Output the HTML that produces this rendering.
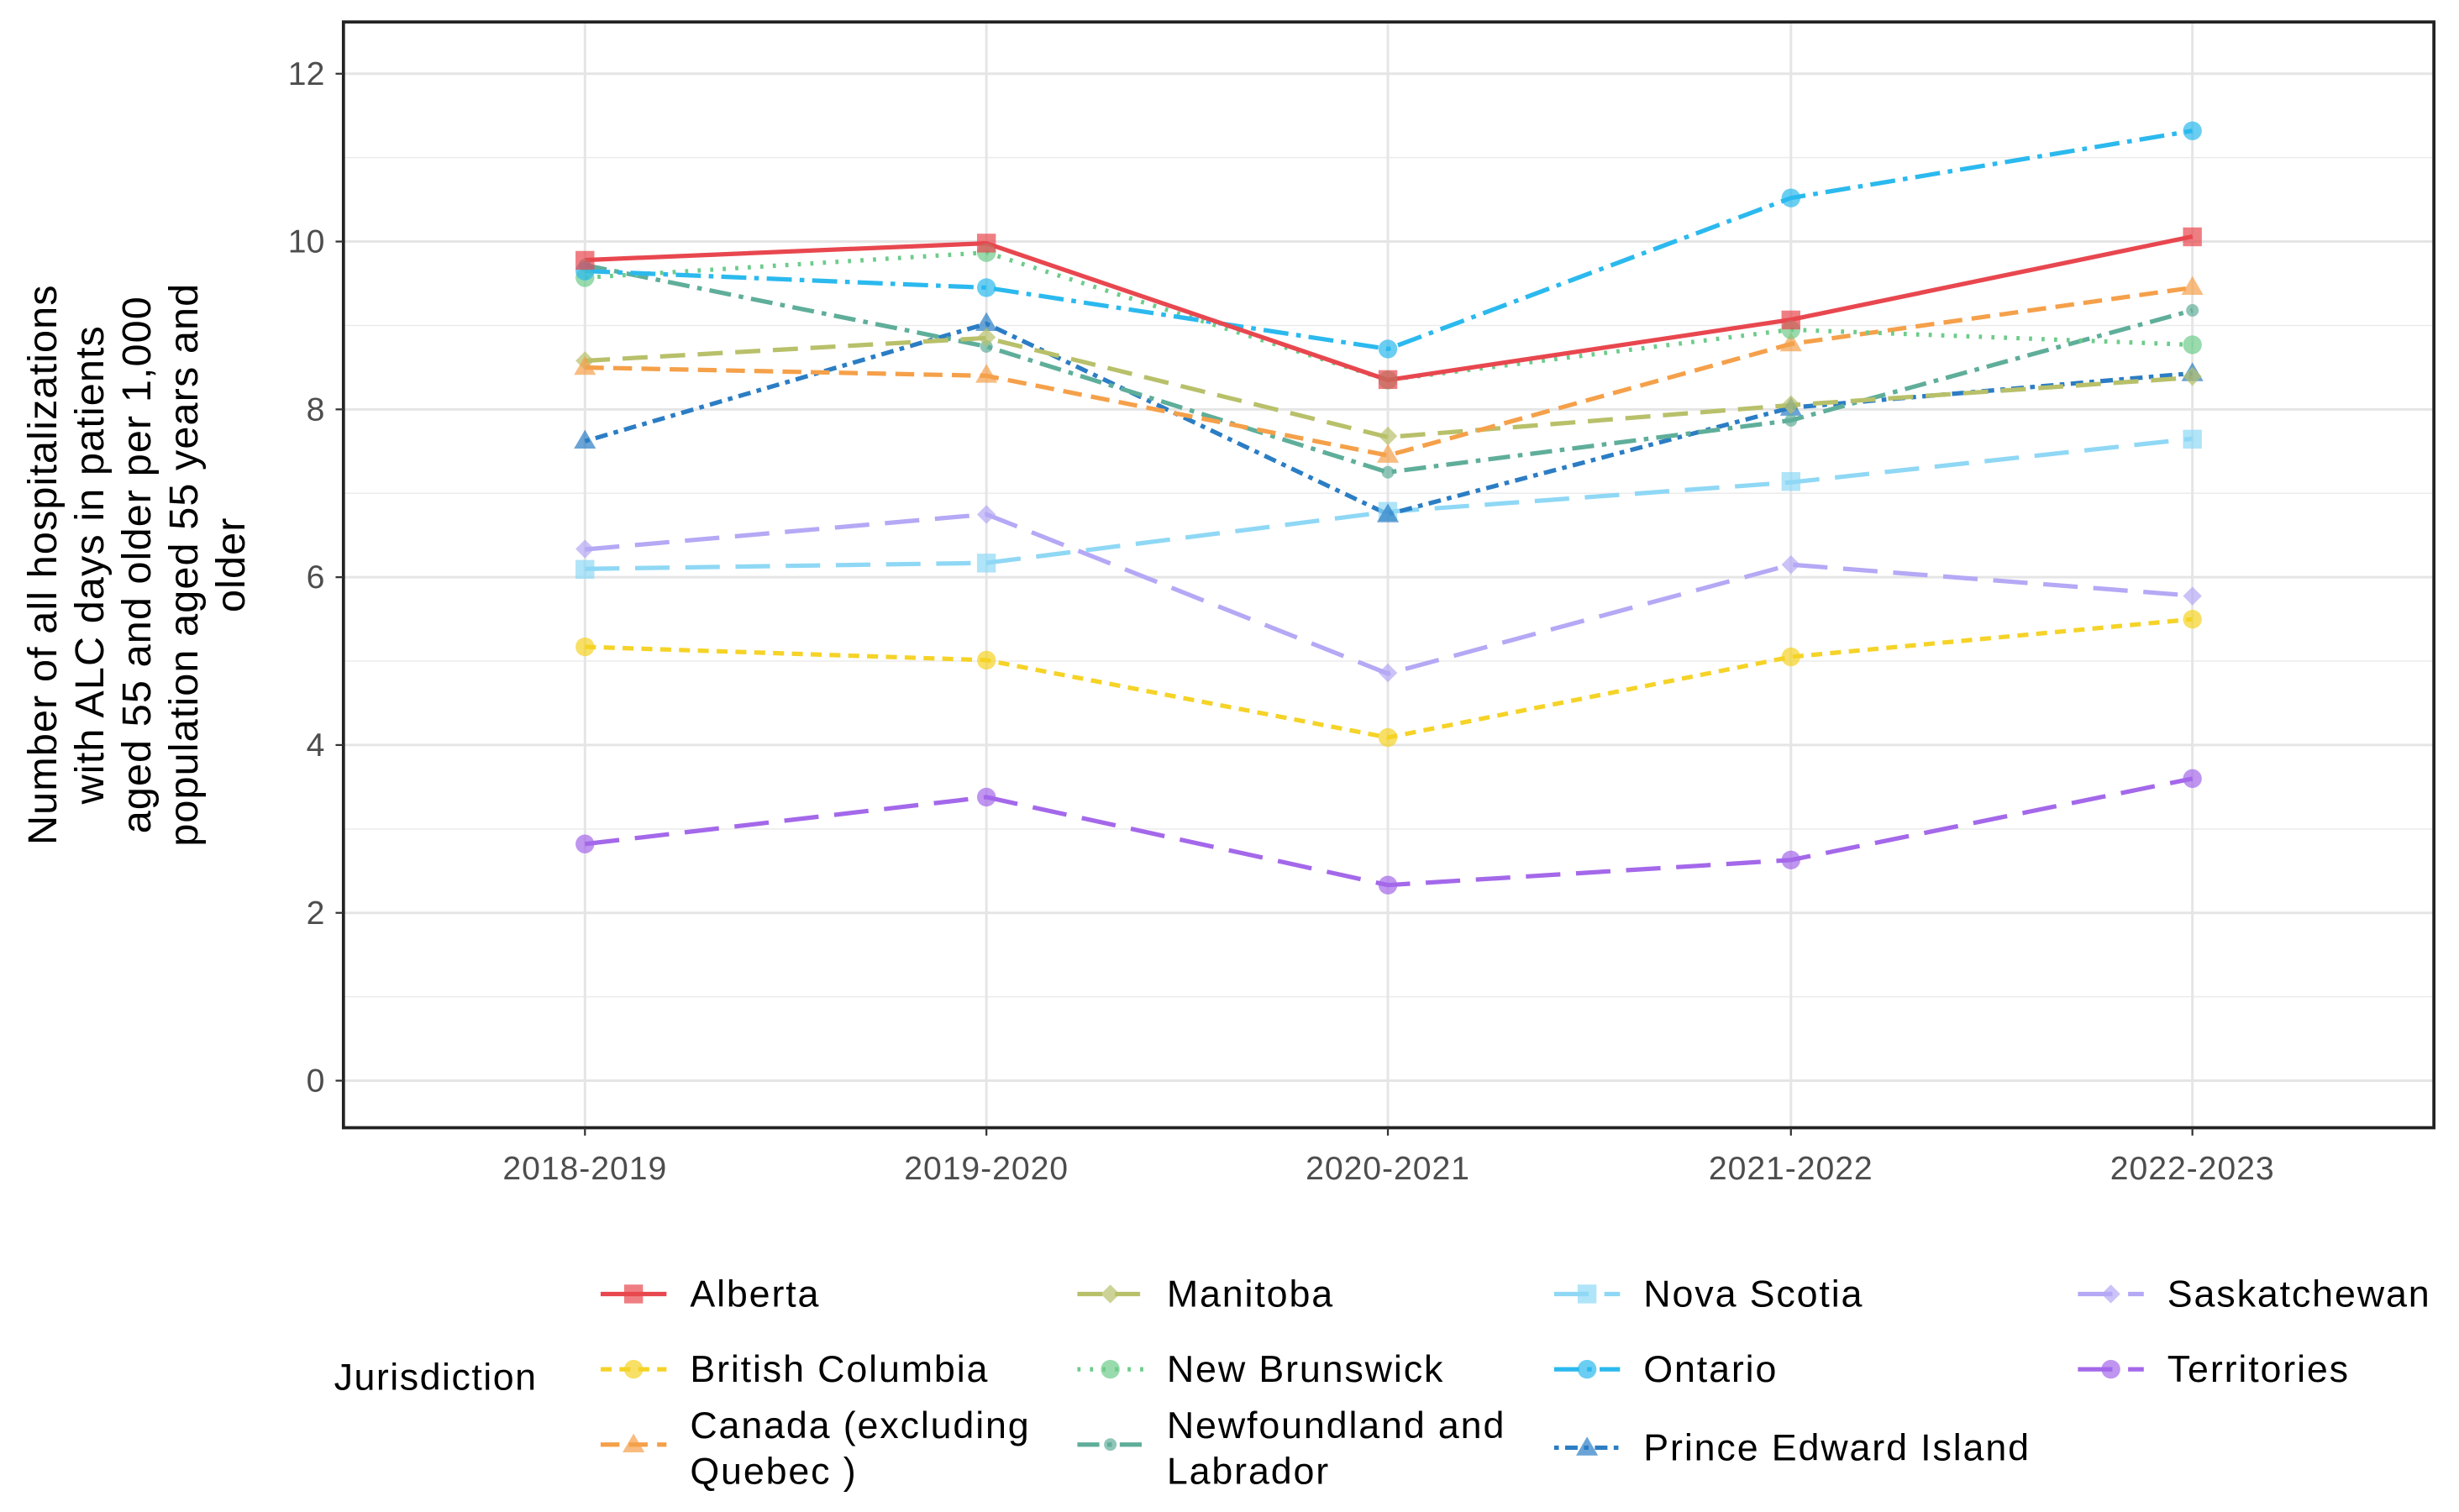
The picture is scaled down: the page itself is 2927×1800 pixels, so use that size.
<!DOCTYPE html>
<html><head><meta charset="utf-8"><style>html,body{margin:0;padding:0;background:#fff}svg{display:block}</style></head>
<body>
<svg width="2927" height="1800" viewBox="0 0 1568 964" preserveAspectRatio="none" xmlns="http://www.w3.org/2000/svg" font-family="Liberation Sans, sans-serif">
<rect width="1568" height="964" fill="#fff"/>
<g stroke="#ebebeb" stroke-width="0.8">
<line x1="219" x2="1552" y1="635.5" y2="635.5"/><line x1="219" x2="1552" y1="528.5" y2="528.5"/><line x1="219" x2="1552" y1="421.5" y2="421.5"/><line x1="219" x2="1552" y1="314.5" y2="314.5"/><line x1="219" x2="1552" y1="207.5" y2="207.5"/><line x1="219" x2="1552" y1="100.5" y2="100.5"/>
</g>
<g stroke="#e5e5e5" stroke-width="1.6">
<line x1="219" x2="1552" y1="689" y2="689"/><line x1="219" x2="1552" y1="582" y2="582"/><line x1="219" x2="1552" y1="475" y2="475"/><line x1="219" x2="1552" y1="368" y2="368"/><line x1="219" x2="1552" y1="261" y2="261"/><line x1="219" x2="1552" y1="154" y2="154"/><line x1="219" x2="1552" y1="47" y2="47"/>
<line x1="373" x2="373" y1="14" y2="719"/><line x1="629" x2="629" y1="14" y2="719"/><line x1="885" x2="885" y1="14" y2="719"/><line x1="1142" x2="1142" y1="14" y2="719"/><line x1="1398" x2="1398" y1="14" y2="719"/>
</g>
<g fill="none" stroke-width="2.8">
<polyline stroke="#a468ea" stroke-dasharray="22,10" points="373,538.1 629,508.2 885,564.3 1142,548.3 1398,496.4"/>
<polyline stroke="#b5a8f5" stroke-dasharray="22,10" points="373,350.3 629,327.9 885,429.5 1142,360 1398,379.8"/>
<polyline stroke="#f5d327" stroke-dasharray="7,5" points="373,412.4 629,420.9 885,470.2 1142,418.8 1398,394.8"/>
<polyline stroke="#8fd8f5" stroke-dasharray="22,10" points="373,362.7 629,358.9 885,326.3 1142,307.5 1398,279.7"/>
<polyline stroke="#2b7dc4" stroke-dasharray="3,4,8,4" points="373,281.3 629,206.4 885,327.9 1142,259.9 1398,238"/>
<polyline stroke="#5fae9a" stroke-dasharray="14,5,3,5" points="373,169 629,220.9 885,301.1 1142,268 1398,197.9"/>
<polyline stroke="#b8c06a" stroke-dasharray="16,8" points="373,230 629,215.5 885,278.7 1142,258.3 1398,240.7"/>
<polyline stroke="#f5a04a" stroke-dasharray="12,6" points="373,234.3 629,239.6 885,290.4 1142,219.3 1398,183.4"/>
<polyline stroke="#6dcc8a" stroke-dasharray="2,6" points="373,177 629,161 885,242.3 1142,210.2 1398,219.8"/>
<polyline stroke="#2bb9ee" stroke-dasharray="16,5,3,5" points="373,172.8 629,183.4 885,222.5 1142,126.2 1398,83.4"/>
<polyline stroke="#e8474f" points="373,165.8 629,155.1 885,242.3 1142,203.8 1398,150.8"/>
</g>
<g fill-opacity="0.7">
<circle cx="373" cy="538.1" r="6" fill="#a468ea"/><circle cx="629" cy="508.2" r="6" fill="#a468ea"/><circle cx="885" cy="564.3" r="6" fill="#a468ea"/><circle cx="1142" cy="548.3" r="6" fill="#a468ea"/><circle cx="1398" cy="496.4" r="6" fill="#a468ea"/>
<g fill="#b5a8f5"><path d="M373,344l6,6-6,6-6-6z"/><path d="M629,322l6,6-6,6-6-6z"/><path d="M885,423l6,6-6,6-6-6z"/><path d="M1142,354l6,6-6,6-6-6z"/><path d="M1398,374l6,6-6,6-6-6z"/></g>
<g fill="#f5d327"><circle cx="373" cy="412.4" r="6"/><circle cx="629" cy="420.9" r="6"/><circle cx="885" cy="470.2" r="6"/><circle cx="1142" cy="418.8" r="6"/><circle cx="1398" cy="394.8" r="6"/></g>
<g fill="#8fd8f5"><rect x="367" y="357" width="12" height="12"/><rect x="623" y="353" width="12" height="12"/><rect x="879" y="320" width="12" height="12"/><rect x="1136" y="301" width="12" height="12"/><rect x="1392" y="274" width="12" height="12"/></g>
<g fill="#2b7dc4"><path d="M373,274l7,12h-14z"/><path d="M629,199l7,12h-14z"/><path d="M885,321l7,12h-14z"/><path d="M1142,253l7,12h-14z"/><path d="M1398,231l7,12h-14z"/></g>
<g fill="#5fae9a"><circle cx="373" cy="169" r="4"/><circle cx="629" cy="220.9" r="4"/><circle cx="885" cy="301.1" r="4"/><circle cx="1142" cy="268" r="4"/><circle cx="1398" cy="197.9" r="4"/></g>
<g fill="#b8c06a"><path d="M373,224l6,6-6,6-6-6z"/><path d="M629,209l6,6-6,6-6-6z"/><path d="M885,272l6,6-6,6-6-6z"/><path d="M1142,252l6,6-6,6-6-6z"/><path d="M1398,234l6,6-6,6-6-6z"/></g>
<g fill="#f5a04a"><path d="M373,227l7,12h-14z"/><path d="M629,232l7,12h-14z"/><path d="M885,283l7,12h-14z"/><path d="M1142,212l7,12h-14z"/><path d="M1398,176l7,12h-14z"/></g>
<g fill="#6dcc8a"><circle cx="373" cy="177" r="6"/><circle cx="629" cy="161" r="6"/><circle cx="885" cy="242.3" r="6"/><circle cx="1142" cy="210.2" r="6"/><circle cx="1398" cy="219.8" r="6"/></g>
<g fill="#2bb9ee"><circle cx="373" cy="172.8" r="6"/><circle cx="629" cy="183.4" r="6"/><circle cx="885" cy="222.5" r="6"/><circle cx="1142" cy="126.2" r="6"/><circle cx="1398" cy="83.4" r="6"/></g>
<g fill="#e8474f"><rect x="367" y="160" width="12" height="12"/><rect x="623" y="149" width="12" height="12"/><rect x="879" y="236" width="12" height="12"/><rect x="1136" y="198" width="12" height="12"/><rect x="1392" y="145" width="12" height="12"/></g>
</g>
<rect x="219" y="14" width="1333" height="705" fill="none" stroke="#222" stroke-width="2"/>
<g stroke="#333" stroke-width="1.2">
<line x1="214" x2="219" y1="689" y2="689"/><line x1="214" x2="219" y1="582" y2="582"/><line x1="214" x2="219" y1="475" y2="475"/><line x1="214" x2="219" y1="368" y2="368"/><line x1="214" x2="219" y1="261" y2="261"/><line x1="214" x2="219" y1="154" y2="154"/><line x1="214" x2="219" y1="47" y2="47"/>
<line x1="373" x2="373" y1="719" y2="724"/><line x1="629" x2="629" y1="719" y2="724"/><line x1="885" x2="885" y1="719" y2="724"/><line x1="1142" x2="1142" y1="719" y2="724"/><line x1="1398" x2="1398" y1="719" y2="724"/>
</g>
<g font-size="21" fill="#4d4d4d" text-anchor="end">
<text x="207" y="696">0</text><text x="207" y="589">2</text><text x="207" y="482">4</text><text x="207" y="375">6</text><text x="207" y="268">8</text><text x="207" y="161">10</text><text x="207" y="54">12</text>
</g>
<g font-size="21" fill="#4d4d4d" text-anchor="middle" letter-spacing="0.5">
<text x="373" y="752">2018-2019</text><text x="629" y="752">2019-2020</text><text x="885" y="752">2020-2021</text><text x="1142" y="752">2021-2022</text><text x="1398" y="752">2022-2023</text>
</g>
<g font-size="26" fill="#000" text-anchor="middle" letter-spacing="0.6">
<text transform="translate(36,360) rotate(-90)">Number of all hospitalizations</text>
<text transform="translate(66,360) rotate(-90)">with ALC days in patients</text>
<text transform="translate(96,360) rotate(-90)">aged 55 and older per 1,000</text>
<text transform="translate(126,360) rotate(-90)">population aged 55 years and</text>
<text transform="translate(156,360) rotate(-90)">older</text>
</g>
<text x="213" y="886" font-size="24" letter-spacing="0.8">Jurisdiction</text>
<g font-size="24" fill="#000" letter-spacing="1">
<text x="440" y="833">Alberta</text><text x="440" y="881">British Columbia</text><text x="440" y="917">Canada  (excluding</text><text x="440" y="946">Quebec )</text>
<text x="744" y="833">Manitoba</text><text x="744" y="881">New Brunswick</text><text x="744" y="917">Newfoundland and</text><text x="744" y="946">Labrador</text>
<text x="1048" y="833">Nova Scotia</text><text x="1048" y="881">Ontario</text><text x="1048" y="931">Prince Edward Island</text>
<text x="1382" y="833">Saskatchewan</text><text x="1382" y="881">Territories</text>
</g>
<g stroke-width="2.8" fill="none">
<line x1="383" x2="425" y1="825" y2="825" stroke="#e8474f"/>
<line x1="383" x2="425" y1="873" y2="873" stroke="#f5d327" stroke-dasharray="7,5"/>
<line x1="383" x2="425" y1="921" y2="921" stroke="#f5a04a" stroke-dasharray="12,6"/>
<line x1="687" x2="729" y1="825" y2="825" stroke="#b8c06a" stroke-dasharray="16,8"/>
<line x1="687" x2="729" y1="873" y2="873" stroke="#6dcc8a" stroke-dasharray="2,6"/>
<line x1="687" x2="729" y1="921" y2="921" stroke="#5fae9a" stroke-dasharray="14,5,3,5"/>
<line x1="991" x2="1033" y1="825" y2="825" stroke="#8fd8f5" stroke-dasharray="22,10"/>
<line x1="991" x2="1033" y1="873" y2="873" stroke="#2bb9ee" stroke-dasharray="16,5,3,5"/>
<line x1="991" x2="1033" y1="923" y2="923" stroke="#2b7dc4" stroke-dasharray="3,4,8,4"/>
<line x1="1325" x2="1367" y1="825" y2="825" stroke="#b5a8f5" stroke-dasharray="22,10"/>
<line x1="1325" x2="1367" y1="873" y2="873" stroke="#a468ea" stroke-dasharray="22,10"/>
</g>
<g fill-opacity="0.7">
<rect x="398" y="819" width="12" height="12" fill="#e8474f"/>
<circle cx="404" cy="873" r="6" fill="#f5d327"/>
<path d="M404,914l7,12h-14z" fill="#f5a04a"/>
<path d="M708,819l6,6-6,6-6-6z" fill="#b8c06a"/>
<circle cx="708" cy="873" r="6" fill="#6dcc8a"/>
<circle cx="708" cy="921" r="4" fill="#5fae9a"/>
<rect x="1006" y="819" width="12" height="12" fill="#8fd8f5"/>
<circle cx="1012" cy="873" r="6" fill="#2bb9ee"/>
<path d="M1012,916l7,12h-14z" fill="#2b7dc4"/>
<path d="M1346,819l6,6-6,6-6-6z" fill="#b5a8f5"/>
<circle cx="1346" cy="873" r="6" fill="#a468ea"/>
</g>
</svg>
</body></html>
